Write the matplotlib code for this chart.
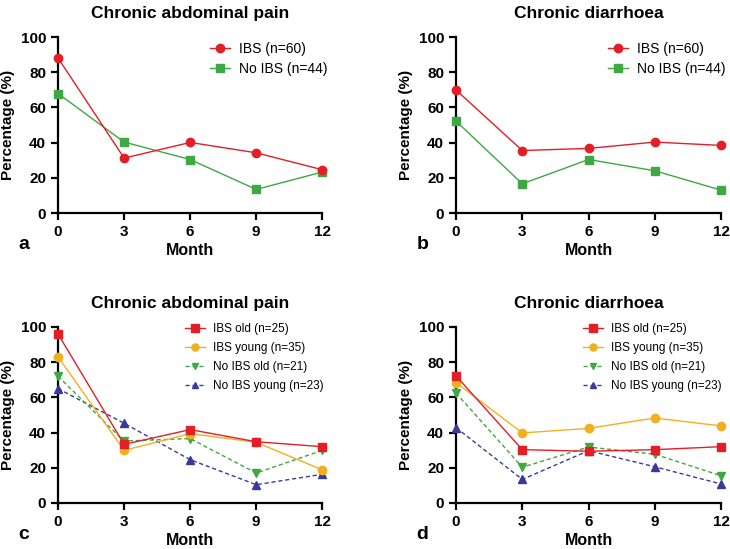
import matplotlib
matplotlib.use("Agg")
from matplotlib import pyplot as plt

# months on the x axis
months = [0, 3, 6, 9, 12]

# panel a: chronic abdominal pain
pain_ibs = [88.1, 31.2, 40.1, 34.2, 24.6]
pain_noibs = [67.9, 40.3, 30.4, 13.4, 23.3]

# panel b: chronic diarrhoea
diar_ibs = [69.9, 35.5, 36.7, 40.3, 38.4]
diar_noibs = [52.2, 16.6, 30.4, 24.0, 13.0]

# panel c: abdominal pain by age group
pain_ibs_old = [96.0, 33.3, 41.7, 34.8, 32.0]
pain_ibs_young = [83.0, 29.9, 39.4, 34.5, 18.8]
pain_noibs_old = [72.0, 35.2, 36.6, 17.0, 29.9]
pain_noibs_young = [65.0, 45.3, 24.6, 10.4, 16.3]

# panel d: diarrhoea by age group
diar_ibs_old = [72.2, 30.3, 29.4, 30.3, 32.0]
diar_ibs_young = [68.4, 39.8, 42.4, 48.3, 43.8]
diar_noibs_old = [62.5, 20.3, 31.8, 27.7, 15.5]
diar_noibs_young = [42.8, 13.4, 29.7, 20.6, 10.8]

RED = "#E21F26"
GREEN = "#3EA844"
ORANGE = "#F2B01E"
BLUE = "#3A3A9C"

plt.rcParams["font.family"] = ["Liberation Sans", "DejaVu Sans"]

fig = plt.figure(figsize=(7.3, 5.49), dpi=100)

# axes rectangles (left, bottom, width, height) in figure fraction
pos = {
    "a": [0.0795, 0.612, 0.362, 0.3206],
    "b": [0.6247, 0.612, 0.363, 0.3206],
    "c": [0.0795, 0.0838, 0.362, 0.3206],
    "d": [0.6247, 0.0838, 0.363, 0.3206],
}


def style_axes(ax, title, letter):
    ax.set_xlim(0, 12)
    ax.set_ylim(0, 100)
    ax.set_xticks(months)
    ax.set_yticks([0, 20, 40, 60, 80, 100])
    ax.spines["top"].set_visible(False)
    ax.spines["right"].set_visible(False)
    ax.spines["left"].set_linewidth(1.6)
    ax.spines["bottom"].set_linewidth(1.6)
    ax.tick_params(width=1.6, length=5, labelsize=11)
    for lab in ax.get_xticklabels() + ax.get_yticklabels():
        lab.set_fontweight("bold")
    ax.set_title(title, fontsize=12.5, fontweight="bold", pad=14)
    ax.set_xlabel("Month", fontsize=11.5, fontweight="bold", labelpad=3)
    ax.set_ylabel("Percentage (%)", fontsize=11, fontweight="bold", labelpad=4)
    ax.text(-0.15, -0.13, letter, transform=ax.transAxes, fontsize=14,
            fontweight="bold", va="top")


def two_group(ax, ibs, noibs, x0):
    ax.plot(months, ibs, color=RED, marker="o", ms=6, lw=1,
            label="IBS (n=60)", clip_on=False, zorder=5)
    ax.plot(months, noibs, color=GREEN, marker="s", ms=6, lw=1,
            label="No IBS (n=44)", clip_on=False, zorder=4)
    ax.legend(loc="upper left", bbox_to_anchor=(x0, 0.974), frameon=False,
              fontsize=10, handlelength=1.4, handletextpad=0.65,
              labelspacing=0.44, borderpad=0, borderaxespad=0)


def four_group(ax, old, young, nold, nyoung, x0):
    ax.plot(months, old, color=RED, marker="s", ms=6, lw=1,
            label="IBS old (n=25)", clip_on=False, zorder=6)
    ax.plot(months, young, color=ORANGE, marker="o", ms=6, lw=1,
            label="IBS young (n=35)", clip_on=False, zorder=5)
    ax.plot(months, nold, color=GREEN, marker="v", ms=5.5, lw=1, ls="--",
            dashes=(3, 2), label="No IBS old (n=21)", clip_on=False, zorder=4)
    ax.plot(months, nyoung, color=BLUE, marker="^", ms=5.5, lw=1, ls="--",
            dashes=(3, 2), label="No IBS young (n=23)", clip_on=False, zorder=3)
    ax.legend(loc="upper left", bbox_to_anchor=(x0, 1.02), frameon=False,
              fontsize=8.5, handlelength=1.7, handletextpad=0.68,
              labelspacing=0.57, borderpad=0, borderaxespad=0,
              markerscale=0.85)


ax_a = fig.add_axes(pos["a"])
two_group(ax_a, pain_ibs, pain_noibs, 0.576)
style_axes(ax_a, "Chronic abdominal pain", "a")

ax_b = fig.add_axes(pos["b"])
two_group(ax_b, diar_ibs, diar_noibs, 0.574)
style_axes(ax_b, "Chronic diarrhoea", "b")

ax_c = fig.add_axes(pos["c"])
four_group(ax_c, pain_ibs_old, pain_ibs_young, pain_noibs_old, pain_noibs_young, 0.481)
style_axes(ax_c, "Chronic abdominal pain", "c")

ax_d = fig.add_axes(pos["d"])
four_group(ax_d, diar_ibs_old, diar_ibs_young, diar_noibs_old, diar_noibs_young, 0.479)
style_axes(ax_d, "Chronic diarrhoea", "d")

fig.savefig("out.png", dpi=100)
